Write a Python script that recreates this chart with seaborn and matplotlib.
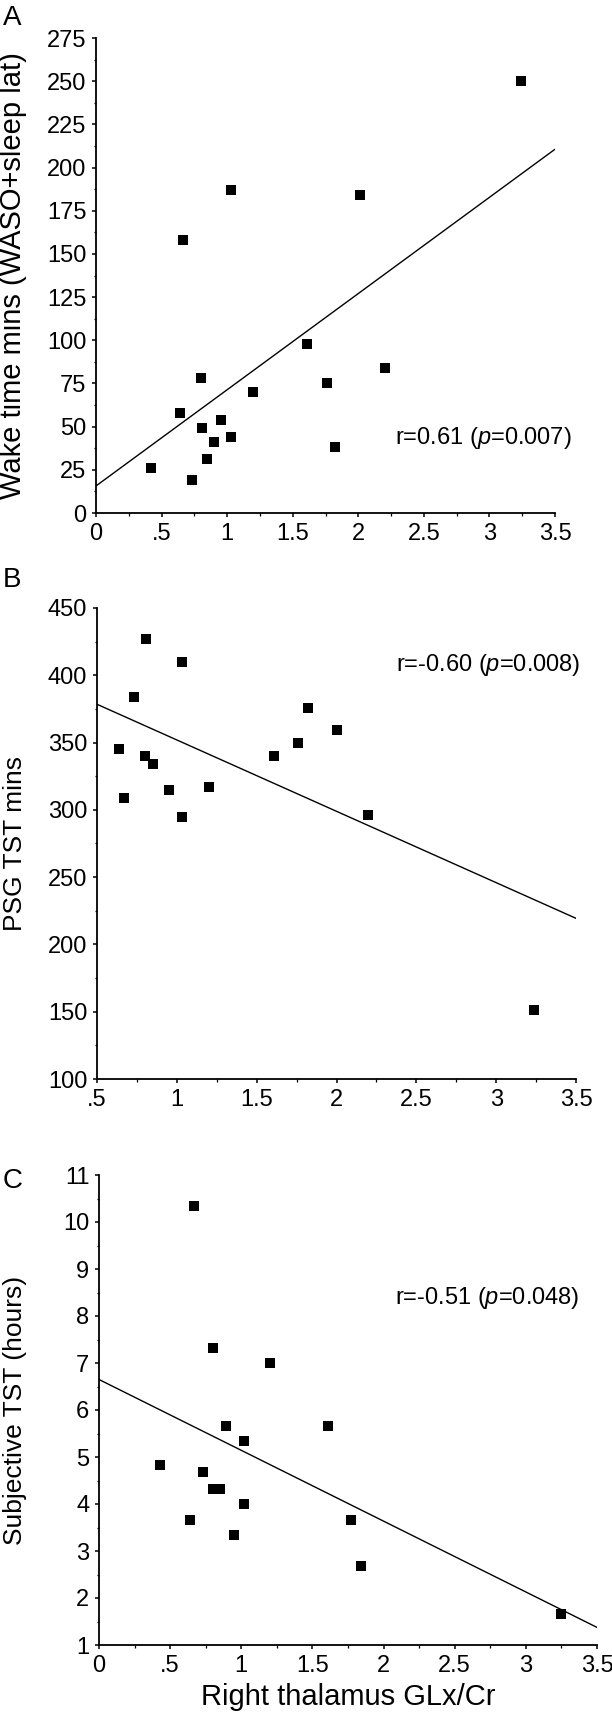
import numpy as np
import pandas as pd
import matplotlib
matplotlib.use("Agg")
import matplotlib.pyplot as plt
from matplotlib.ticker import MultipleLocator
import seaborn as sns

# ---- data ----
a_x = [0.42, 0.73, 0.64, 0.66, 0.80, 0.81, 0.85, 0.90, 0.95, 1.03, 1.03, 1.20, 1.61, 1.76, 1.82, 2.01, 2.20, 3.24]
a_y = [26, 19, 58, 158, 78, 49, 31, 41, 54, 44, 187, 70, 98, 75, 38, 184, 84, 250]

b_x = [0.64, 0.67, 0.73, 0.80, 0.81, 0.85, 0.95, 1.03, 1.03, 1.20, 1.61, 1.76, 1.82, 2.00, 2.20, 3.24]
b_y = [345, 309, 384, 340, 427, 334, 315, 410, 295, 317, 340, 350, 376, 359, 296, 151]

c_x = [0.43, 0.64, 0.67, 0.73, 0.80, 0.80, 0.85, 0.89, 0.95, 1.02, 1.02, 1.20, 1.61, 1.77, 1.84, 3.25]
c_y = [4.83, 3.67, 10.35, 4.69, 7.32, 4.32, 4.32, 5.67, 3.34, 4.01, 5.34, 7.00, 5.67, 3.67, 2.68, 1.67]

x_ticks_full = [0, 0.5, 1, 1.5, 2, 2.5, 3, 3.5]
x_labels_full = ['0', '.5', '1', '1.5', '2', '2.5', '3', '3.5']
x_ticks_b = [0.5, 1, 1.5, 2, 2.5, 3, 3.5]
x_labels_b = ['.5', '1', '1.5', '2', '2.5', '3', '3.5']

ylabels = ["Wake time mins (WASO+sleep lat)", "PSG TST mins", "Subjective TST (hours)"]
xlabel_c = "Right thalamus GLx/Cr"
stats_text = ["r=0.61 ($\\it{p}$=0.007)", "r=-0.60 ($\\it{p}$=0.008)", "r=-0.51 ($\\it{p}$=0.048)"]
panel_letters = ["A", "B", "C"]

# ---- style ----
sns.set_theme(style="ticks")
plt.rcParams['font.family'] = ['Liberation Sans', 'DejaVu Sans']
plt.rcParams['mathtext.fontset'] = 'custom'
plt.rcParams['mathtext.rm'] = 'Liberation Sans'
plt.rcParams['mathtext.it'] = 'Liberation Sans:italic'

W, H = 612, 1716
fig = plt.figure(figsize=(W / 100, H / 100), dpi=100)

def add_ax(left, right, top, bottom):
    return fig.add_axes([left / W, 1 - bottom / H, (right - left) / W, (bottom - top) / H])

boxes = [(96, 555, 38, 513), (97, 576, 608, 1079), (99, 597, 1175, 1645)]
axes = [add_ax(*b) for b in boxes]
letter_baselines = [25, 587, 1188]
ylabel_sizes = [21, 19, 19]

panels = [
    (a_x, a_y, (0, 3.5), (0, 275), x_ticks_full, x_labels_full, 25, 12.5, (2.28, 43.5)),
    (b_x, b_y, (0.5, 3.5), (100, 450), x_ticks_b, x_labels_b, 50, 25, (2.375, 408)),
    (c_x, c_y, (0, 3.5), (1, 11), x_ticks_full, x_labels_full, 1, 0.5, (2.08, 8.39)),
]

for i, (xs, ys, xlim, ylim, xt, xtl, ymaj, ymin, tpos) in enumerate(panels):
    ax = axes[i]
    left, right, top, bottom = boxes[i]
    df = pd.DataFrame({"x": xs, "y": ys})
    ax.set_xlim(*xlim)
    ax.set_ylim(*ylim)
    sns.regplot(data=df, x="x", y="y", ax=ax, ci=None, truncate=False,
                marker="s",
                scatter_kws=dict(s=48, color="black", alpha=1, edgecolor="black",
                                 linewidths=0, zorder=3, clip_on=False),
                line_kws=dict(color="black", lw=1.0))
    ax.set_xlim(*xlim)
    ax.set_ylim(*ylim)
    ax.set_xticks(xt)
    ax.set_xticklabels(xtl)
    ax.yaxis.set_major_locator(MultipleLocator(ymaj))
    ax.yaxis.set_minor_locator(MultipleLocator(ymin))
    ax.xaxis.set_minor_locator(MultipleLocator(0.25))
    sns.despine(ax=ax)
    for s in ["left", "bottom"]:
        ax.spines[s].set_linewidth(1.3)
        ax.spines[s].set_color("black")
    ax.tick_params(which="major", length=3, width=1.1, color="black",
                   labelsize=17, labelcolor="black", pad=4)
    ax.tick_params(which="minor", length=1.8, width=0.9, color="black")
    ax.set_ylabel(ylabels[i], fontsize=ylabel_sizes[i], color="black")
    ax.yaxis.set_label_coords((27 - left) / (right - left), 0.5)
    if i == 2:
        ax.set_xlabel(xlabel_c, fontsize=21, color="black", va="center")
        ax.xaxis.set_label_coords(0.5, (bottom - 1697) / (bottom - top))
    else:
        ax.set_xlabel("")
    ax.text(tpos[0], tpos[1], stats_text[i], fontsize=17, color="black",
            ha="left", va="center")
    fig.text(3 / W, 1 - letter_baselines[i] / H, panel_letters[i],
             fontsize=20, color="black", ha="left", va="baseline")

fig.savefig("out.png", dpi=100, facecolor="white")
